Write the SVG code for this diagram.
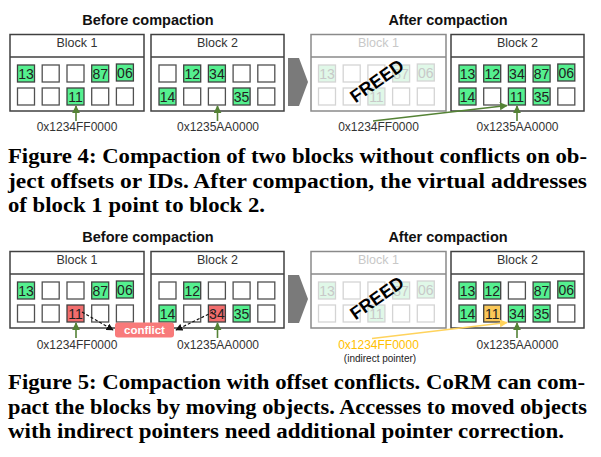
<svg xmlns="http://www.w3.org/2000/svg" width="601" height="457" viewBox="0 0 601 457">
<defs>
<style>
.bg{fill:#fff}
.title{font-family:"Liberation Sans",Arial,sans-serif;font-weight:bold;font-size:14.5px;fill:#111;text-anchor:middle}
.box{fill:#fff;stroke:#404040;stroke-width:1.5}
.fbox{fill:#fff;stroke:#8a8a8a;stroke-width:1.5}
.hdr{font-family:"Liberation Sans",Arial,sans-serif;font-size:12.5px;fill:#333;text-anchor:middle}
.fhdr{font-family:"Liberation Sans",Arial,sans-serif;font-size:12.5px;fill:#c8c8c8;text-anchor:middle}
.c{fill:#fff;stroke:#505050;stroke-width:1.3}
.g{fill:#55f08f;stroke:#404040;stroke-width:1.3}
.r{fill:#f26d6d;stroke:#404040;stroke-width:1.3}
.o{fill:#fac858;stroke:#404040;stroke-width:1.3}
.fc{fill:#fff;stroke:#d4d4d4;stroke-width:1.3}
.fg{fill:#e0f8e8;stroke:#d4d4d4;stroke-width:1.3}
.n{font-family:"Liberation Sans",Arial,sans-serif;font-size:14px;fill:#222;text-anchor:middle}
.fn{font-family:"Liberation Sans",Arial,sans-serif;font-size:14px;fill:#c8c8c8;text-anchor:middle}
.addr{font-family:"Liberation Sans",Arial,sans-serif;font-size:12px;fill:#333;text-anchor:middle}
.freed{font-family:"Liberation Sans",Arial,sans-serif;font-weight:bold;font-size:18px;fill:#000;text-anchor:middle}
.chev{fill:#7a7a7a}
.cap{font-family:"Liberation Serif","Times New Roman",serif;font-weight:bold;font-size:20px;fill:#000}
.ga{stroke:#548235;stroke-width:1.6;fill:none}
.ya{stroke:#ffd35c;stroke-width:1.6;fill:none}
.da{stroke:#111;stroke-width:1.2;stroke-dasharray:3,2;fill:none}
</style>
<marker id="mg" viewBox="0 0 10 10" refX="9" refY="5" markerWidth="5" markerHeight="5" orient="auto"><path d="M0,0 L10,5 L0,10 z" fill="#548235"/></marker>
<marker id="my" viewBox="0 0 10 10" refX="9" refY="5" markerWidth="5" markerHeight="5" orient="auto"><path d="M0,0 L10,5 L0,10 z" fill="#ffd35c"/></marker>
<marker id="mk" viewBox="0 0 10 10" refX="9" refY="5" markerWidth="6" markerHeight="6" orient="auto"><path d="M0,0 L10,5 L0,10 z" fill="#111"/></marker>
</defs>
<rect class="bg" x="0" y="0" width="601" height="457"/>

<!-- ===== Figure 4 ===== -->
<text class="title" x="148" y="24.5">Before compaction</text>
<text class="title" x="448" y="24.5">After compaction</text>

<g id="f4-block1">
<rect class="box" x="10" y="34.5" width="134" height="76.5"/>
<line class="box" x1="10" y1="57" x2="144" y2="57"/>
<text class="hdr" x="77" y="47">Block 1</text>
<rect class="g" x="17.5" y="65" width="17" height="17"/><text class="n" x="26" y="79">13</text>
<rect class="c" x="42.2" y="65" width="17" height="17"/>
<rect class="c" x="67" y="65" width="17" height="17"/>
<rect class="g" x="91.7" y="65" width="17" height="17"/><text class="n" x="100.2" y="79">87</text>
<rect class="g" x="116.4" y="64" width="17" height="17"/><text class="n" x="124.9" y="78">06</text>
<rect class="c" x="17.5" y="88" width="17" height="17"/>
<rect class="c" x="42.2" y="88" width="17" height="17"/>
<rect class="g" x="67" y="88" width="17" height="17"/><text class="n" x="75.5" y="102">11</text>
<rect class="c" x="91.7" y="88" width="17" height="17"/>
<rect class="c" x="116.4" y="88" width="17" height="17"/>
</g>

<g id="f4-block2">
<rect class="box" x="151" y="34.5" width="133" height="76.5"/>
<line class="box" x1="151" y1="57" x2="284" y2="57"/>
<text class="hdr" x="217.5" y="47">Block 2</text>
<rect class="c" x="159" y="65" width="17" height="17"/>
<rect class="g" x="183.7" y="65" width="17" height="17"/><text class="n" x="192.2" y="79">12</text>
<rect class="g" x="208.4" y="65" width="17" height="17"/><text class="n" x="216.9" y="79">34</text>
<rect class="c" x="233.1" y="65" width="17" height="17"/>
<rect class="c" x="257.8" y="65" width="17" height="17"/>
<rect class="g" x="159" y="88" width="17" height="17"/><text class="n" x="167.5" y="102">14</text>
<rect class="c" x="183.7" y="88" width="17" height="17"/>
<rect class="c" x="208.4" y="88" width="17" height="17"/>
<rect class="g" x="233.1" y="88" width="17" height="17"/><text class="n" x="241.6" y="102">35</text>
<rect class="c" x="257.8" y="88" width="17" height="17"/>
</g>

<g id="f4-chevron"><polygon class="chev" points="288,58 299,58 308,82 299,106 288,106"/></g>

<g id="f4-freed">
<rect class="fbox" x="311" y="34.5" width="135" height="76.5"/>
<line class="fbox" x1="311" y1="57" x2="446" y2="57"/>
<text class="fhdr" x="378.5" y="47">Block 1</text>
<rect class="fg" x="318.5" y="65" width="17" height="17"/><text class="fn" x="327" y="79">13</text>
<rect class="fc" x="343.2" y="65" width="17" height="17"/>
<rect class="fc" x="367.9" y="65" width="17" height="17"/>
<rect class="fg" x="392.6" y="65" width="17" height="17"/><text class="fn" x="401.1" y="79">87</text>
<rect class="fg" x="417.3" y="64" width="17" height="17"/><text class="fn" x="425.8" y="78">06</text>
<rect class="fc" x="318.5" y="88" width="17" height="17"/>
<rect class="fc" x="343.2" y="88" width="17" height="17"/>
<rect class="fg" x="367.9" y="88" width="17" height="17"/><text class="fn" x="376.4" y="102">11</text>
<rect class="fc" x="392.6" y="88" width="17" height="17"/>
<rect class="fc" x="417.3" y="88" width="17" height="17"/>
<text class="freed" x="377" y="87" transform="rotate(-35 377 81)">FREED</text>
</g>

<g id="f4-block2-after">
<rect class="box" x="451" y="34.5" width="133" height="76.5"/>
<line class="box" x1="451" y1="57" x2="584" y2="57"/>
<text class="hdr" x="517.5" y="47">Block 2</text>
<rect class="g" x="459" y="65" width="17" height="17"/><text class="n" x="467.5" y="79">13</text>
<rect class="g" x="483.7" y="65" width="17" height="17"/><text class="n" x="492.2" y="79">12</text>
<rect class="g" x="508.4" y="65" width="17" height="17"/><text class="n" x="516.9" y="79">34</text>
<rect class="g" x="533.1" y="65" width="17" height="17"/><text class="n" x="541.6" y="79">87</text>
<rect class="g" x="557.8" y="64" width="17" height="17"/><text class="n" x="566.3" y="78">06</text>
<rect class="g" x="459" y="88" width="17" height="17"/><text class="n" x="467.5" y="102">14</text>
<rect class="c" x="483.7" y="88" width="17" height="17"/>
<rect class="g" x="508.4" y="88" width="17" height="17"/><text class="n" x="516.9" y="102">11</text>
<rect class="g" x="533.1" y="88" width="17" height="17"/><text class="n" x="541.6" y="102">35</text>
<rect class="c" x="557.8" y="88" width="17" height="17"/>
</g>

<g id="f4-addresses">
<text class="addr" x="77" y="131">0x1234FF0000</text>
<text class="addr" x="218" y="131">0x1235AA0000</text>
<text class="addr" x="378.5" y="131">0x1234FF0000</text>
<text class="addr" x="517.5" y="131">0x1235AA0000</text>
</g>

<!-- ===== Figure 5 ===== -->
<text class="title" x="148" y="241.5">Before compaction</text>
<text class="title" x="448" y="241.5">After compaction</text>

<g id="f5-block1">
<rect class="box" x="10" y="251.5" width="134" height="76.5"/>
<line class="box" x1="10" y1="274" x2="144" y2="274"/>
<text class="hdr" x="77" y="264">Block 1</text>
<rect class="g" x="17.5" y="282" width="17" height="17"/><text class="n" x="26" y="296">13</text>
<rect class="c" x="42.2" y="282" width="17" height="17"/>
<rect class="c" x="67" y="282" width="17" height="17"/>
<rect class="g" x="91.7" y="282" width="17" height="17"/><text class="n" x="100.2" y="296">87</text>
<rect class="g" x="116.4" y="281" width="17" height="17"/><text class="n" x="124.9" y="295">06</text>
<rect class="c" x="17.5" y="305" width="17" height="17"/>
<rect class="c" x="42.2" y="305" width="17" height="17"/>
<rect class="r" x="67" y="305" width="17" height="17"/><text class="n" x="75.5" y="319">11</text>
<rect class="c" x="91.7" y="305" width="17" height="17"/>
<rect class="c" x="116.4" y="305" width="17" height="17"/>
</g>

<g id="f5-block2">
<rect class="box" x="151" y="251.5" width="133" height="76.5"/>
<line class="box" x1="151" y1="274" x2="284" y2="274"/>
<text class="hdr" x="217.5" y="264">Block 2</text>
<rect class="c" x="159" y="282" width="17" height="17"/>
<rect class="g" x="183.7" y="282" width="17" height="17"/><text class="n" x="192.2" y="296">12</text>
<rect class="c" x="208.4" y="282" width="17" height="17"/>
<rect class="c" x="233.1" y="282" width="17" height="17"/>
<rect class="c" x="257.8" y="282" width="17" height="17"/>
<rect class="g" x="159" y="305" width="17" height="17"/><text class="n" x="167.5" y="319">14</text>
<rect class="c" x="183.7" y="305" width="17" height="17"/>
<rect class="r" x="208.4" y="305" width="17" height="17"/><text class="n" x="216.9" y="319">34</text>
<rect class="g" x="233.1" y="305" width="17" height="17"/><text class="n" x="241.6" y="319">35</text>
<rect class="c" x="257.8" y="305" width="17" height="17"/>
</g>

<g id="f5-chevron"><polygon class="chev" points="288,275 299,275 308,299 299,323 288,323"/></g>

<g id="f5-freed">
<rect class="fbox" x="311" y="251.5" width="135" height="76.5"/>
<line class="fbox" x1="311" y1="274" x2="446" y2="274"/>
<text class="fhdr" x="378.5" y="264">Block 1</text>
<rect class="fg" x="318.5" y="282" width="17" height="17"/><text class="fn" x="327" y="296">13</text>
<rect class="fc" x="343.2" y="282" width="17" height="17"/>
<rect class="fc" x="367.9" y="282" width="17" height="17"/>
<rect class="fg" x="392.6" y="282" width="17" height="17"/><text class="fn" x="401.1" y="296">87</text>
<rect class="fg" x="417.3" y="281" width="17" height="17"/><text class="fn" x="425.8" y="295">06</text>
<rect class="fc" x="318.5" y="305" width="17" height="17"/>
<rect class="fc" x="343.2" y="305" width="17" height="17"/>
<rect class="fg" x="367.9" y="305" width="17" height="17"/><text class="fn" x="376.4" y="319">11</text>
<rect class="fc" x="392.6" y="305" width="17" height="17"/>
<rect class="fc" x="417.3" y="305" width="17" height="17"/>
<text class="freed" x="377" y="304" transform="rotate(-35 377 298)">FREED</text>
</g>

<g id="f5-block2-after">
<rect class="box" x="451" y="251.5" width="133" height="76.5"/>
<line class="box" x1="451" y1="274" x2="584" y2="274"/>
<text class="hdr" x="517.5" y="264">Block 2</text>
<rect class="g" x="459" y="282" width="17" height="17"/><text class="n" x="467.5" y="296">13</text>
<rect class="g" x="483.7" y="282" width="17" height="17"/><text class="n" x="492.2" y="296">12</text>
<rect class="c" x="508.4" y="282" width="17" height="17"/>
<rect class="g" x="533.1" y="282" width="17" height="17"/><text class="n" x="541.6" y="296">87</text>
<rect class="g" x="557.8" y="281" width="17" height="17"/><text class="n" x="566.3" y="295">06</text>
<rect class="g" x="459" y="305" width="17" height="17"/><text class="n" x="467.5" y="319">14</text>
<rect class="o" x="483.7" y="305" width="17" height="17"/><text class="n" x="492.2" y="319">11</text>
<rect class="g" x="508.4" y="305" width="17" height="17"/><text class="n" x="516.9" y="319">34</text>
<rect class="g" x="533.1" y="305" width="17" height="17"/><text class="n" x="541.6" y="319">35</text>
<rect class="c" x="557.8" y="305" width="17" height="17"/>
</g>

<g id="f5-conflict">
<rect x="115" y="322.5" width="59" height="15" rx="3" fill="#f87a7a"/>
<text x="144.5" y="334" font-family="Liberation Sans,Arial,sans-serif" font-weight="bold" font-size="11.5" fill="#fff" text-anchor="middle">conflict</text>
</g>

<g id="f5-addresses">
<text class="addr" x="77" y="349">0x1234FF0000</text>
<text class="addr" x="218" y="349">0x1235AA0000</text>
<text class="addr" x="378.5" y="349" style="fill:#ffc000">0x1234FF0000</text>
<text x="380" y="362" font-family="Liberation Sans,Arial,sans-serif" font-size="10" fill="#222" text-anchor="middle">(indirect pointer)</text>
<text class="addr" x="517.5" y="349">0x1235AA0000</text>
</g>

<g id="connectors">
<line class="ga" x1="76" y1="121" x2="76" y2="106" marker-end="url(#mg)"/>
<line class="ga" x1="217.5" y1="121" x2="217.5" y2="106" marker-end="url(#mg)"/>
<line class="ga" x1="373" y1="121" x2="507" y2="105.5" marker-end="url(#mg)"/>
<line class="ga" x1="517" y1="121" x2="517" y2="106" marker-end="url(#mg)"/>
<line class="ga" x1="76" y1="338" x2="76" y2="323" marker-end="url(#mg)"/>
<line class="ga" x1="217.5" y1="338" x2="217.5" y2="323" marker-end="url(#mg)"/>
<line class="ya" x1="372" y1="338.5" x2="507" y2="322.5" marker-end="url(#my)"/>
<line class="ga" x1="517" y1="338" x2="517" y2="323" marker-end="url(#mg)"/>
<line class="da" x1="82" y1="312" x2="113" y2="330" marker-end="url(#mk)"/>
<line class="da" x1="213" y1="312" x2="176" y2="330" marker-end="url(#mk)"/>
</g>

<g id="captions">
<text class="cap" x="8" y="163" textLength="579" lengthAdjust="spacingAndGlyphs">Figure 4: Compaction of two blocks without conflicts on ob-</text>
<text class="cap" x="8" y="187.5" textLength="579" lengthAdjust="spacingAndGlyphs">ject offsets or IDs. After compaction, the virtual addresses</text>
<text class="cap" x="8" y="212" textLength="257" lengthAdjust="spacingAndGlyphs">of block 1 point to block 2.</text>
<text class="cap" x="8" y="389" textLength="577" lengthAdjust="spacingAndGlyphs">Figure 5: Compaction with offset conflicts. CoRM can com-</text>
<text class="cap" x="8" y="413.5" textLength="579" lengthAdjust="spacingAndGlyphs">pact the blocks by moving objects. Accesses to moved objects</text>
<text class="cap" x="8" y="438" textLength="556" lengthAdjust="spacingAndGlyphs">with indirect pointers need additional pointer correction.</text>
</g>
</svg>
